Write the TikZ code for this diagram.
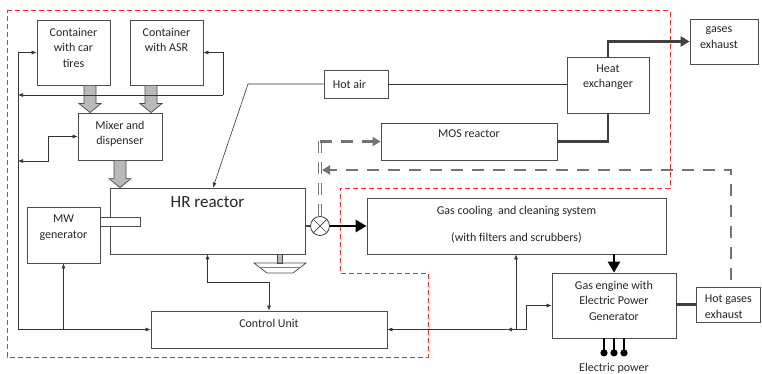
\documentclass[tikz,border=0pt]{standalone}
\usepackage{fontspec}
\setmainfont{Carlito}
\usetikzlibrary{arrows.meta,calc}

% gray block arrow, drawn straight down from #1 to the height of #2
\newcommand{\feedarrow}[2]{%
  \draw[blockarr] let \p1=(#1), \p2=(#2) in
    (\x1-6pt,\y1) -- (\x1+6pt,\y1) -- (\x1+6pt,\y2+9pt) -- (\x1+11pt,\y2+9pt)
    -- (\x1,\y2) -- (\x1-11pt,\y2+9pt) -- (\x1-6pt,\y2+9pt) -- cycle;}

\begin{document}
\begin{tikzpicture}[x=1pt, y=-1pt, >={Latex[length=5pt,width=4pt]},
    box/.style args={#1/#2}{draw=black!70, line width=0.8pt, fill=white,
      minimum width=#1pt, minimum height=#2pt, inner sep=0pt},
    txt/.style={font=\fontsize{12}{15.5}\selectfont, text=black!85,
      align=center, anchor=north, inner sep=0pt},
    toptxt/.style={txt, yshift=-8pt},
    wire/.style={draw=black!80, line width=0.6pt},
    sig/.style={wire, ->},
    pipe/.style={draw=black!75, line width=2.4pt},
    thickarr/.style={draw=black, line width=2.8pt, -{Triangle[length=11pt,width=12pt]}},
    gasdash/.style={draw=black!55, line width=2.6pt, dash pattern=on 12pt off 9pt},
    gasdouble/.style={draw=black!55, line width=0.9pt, double=white,
      double distance=1.4pt, dash pattern=on 12pt off 9pt},
    blockarr/.style={draw=black!70, fill=gray!55, line width=0.7pt},
    redzone/.style={draw=red!85, line width=1pt, dash pattern=on 5pt off 3pt},
    valve/.style={circle, draw=black!75, line width=0.8pt, fill=white,
      minimum size=19pt, inner sep=0pt}]
  \useasboundingbox (0,0) rectangle (762,374);

  % ===== dashed zone =====
  \draw[redzone] (7,11) -- (670,11) -- (670,188) -- (340,188) -- (340,273)
    -- (428,273) -- (428,357) -- (7,357) -- cycle;

  % ===== blocks =====
  \node[box=73/65, label={[toptxt]north:Container\\with car\\tires}] (tires) at (73.5,52.5) {};
  \node[box=73/65, label={[toptxt]north:Container\\with ASR}] (asr) at (166.5,52.5) {};
  \node[box=84/47, label={[toptxt]north:Mixer and\\dispenser}] (mixer) at (120,136.5) {};
  \node[box=195/66, label={[txt, font=\fontsize{17}{20}\selectfont, yshift=-9pt]north:HR reactor}] (hr) at (207.5,221) {};
  \node[box=73/56, label={[toptxt]north:MW\\generator}] (mw) at (63.5,235) {};
  \node[box=236/37, label={[toptxt]north:Control Unit}] (cu) at (269,329.5) {};
  \node[box=64/28, label={[txt, anchor=west, xshift=9pt]west:Hot air}] (hotair) at (356,84) {};
  \node[box=176/37, label={[txt, yshift=-7pt]north:MOS reactor}] (mos) at (469,141.5) {};
  \node[box=82/56, label={[toptxt]north:Heat\\exchanger}] (hx) at (608,85) {};
  \node[box=68/45, label={[toptxt, xshift=-5pt]north:gases\\exhaust}] (gexh) at (724,41.5) {};
  \node[box=299/56, label={[toptxt]north:Gas cooling\ \ and cleaning system\\[11.5pt](with filters and scrubbers)}] (gcool) at (516.5,226) {};
  \node[box=124/65, label={[toptxt]north:Gas engine with\\Electric Power\\Generator}] (engine) at (614,305.5) {};
  \node[box=64/35, label={[toptxt, align=left, anchor=north west, xshift=9pt]north west:Hot gases\\exhaust}] (hotgas) at (728,304.5) {};
  \node[font=\fontsize{12}{14}\selectfont, text=black!85, inner sep=0pt] (epower) at (614,368) {Electric power};
  \node[valve] (valve) at (320,226) {};
  \draw[black!75, line width=0.7pt] (valve.north west) -- (valve.south east)
    (valve.north east) -- (valve.south west);

  % MW tab and outlet under the reactor
  \draw[black!70, line width=0.8pt, fill=white] (100,217) rectangle (140,226);
  \draw[blockarr] (277,254) rectangle (282,263);
  \draw[black!70, line width=0.8pt] (254,263) -- (306,263) -- (293,273) -- (267,273) -- cycle;
  \draw[black!50, line width=0.5pt] (259,267) -- (301,267);

  % ===== material flow =====
  \feedarrow{[xshift=16.5pt]tires.south}{mixer.north}
  \feedarrow{[xshift=-15.5pt]asr.south}{mixer.north}
  \feedarrow{mixer.south}{hr.north}

  % ===== control lines =====
  \coordinate (bus) at (18,0);
  \coordinate (asrtap) at (223,95);
  \coordinate (mixtap) at (48,161);
  \coordinate (habend) at (248,84);
  \coordinate (cutap) at (269,282);
  \coordinate (rtap) at (526,329.5);
  \coordinate (rup) at (516,329.5);
  \coordinate (rmid) at (507,329.5);

  \draw[sig] (tires.west -| bus) -- (tires.west);
  \draw[wire] (tires.west -| bus) -- (cu.west -| bus);
  \draw[sig] (cu.west -| bus) -- (cu.west);
  \draw[sig] (mw.south |- cu.west) -- (mw.south);
  \draw[sig] (asrtap) -- (asrtap -| bus);
  \draw[sig] (asrtap) |- (asr.east);
  \draw[sig] (mixtap |- mixer.west) -- (mixer.west);
  \draw[sig] (mixtap |- mixer.west) -- (mixtap) -- (mixtap -| bus);
  \draw[sig] (hotair.west) -- (habend) -- ([xshift=5.5pt]hr.north);
  \draw[wire] (hotair.east) -- (hotair.east -| hx.west);
  \draw[sig] (cutap) -| (hr.south);
  \draw[sig] (cutap) -- (cu.north);
  \draw[sig] (rtap) |- (engine.west);
  \draw[sig] (rtap) -- (rmid);
  \draw[sig] (rmid) -- (cu.east);
  \draw[sig] (rup) -- (rup |- gcool.south);

  % ===== gas lines =====
  \draw[pipe] (valve.west -| hr.east) -- (valve.west);
  \draw[thickarr] (valve.east) -- (gcool.west);
  \draw[thickarr] (engine.north |- gcool.south) -- (engine.north);
  \draw[pipe] (hotgas.west -| engine.east) -- (hotgas.west);
  \draw[pipe] (mos.east) -| (hx.south);
  \draw[pipe, -{Triangle[length=9pt,width=10pt]}] (hx.north) |- (gexh.west);
  \draw[gasdouble] (valve.north) -- (valve.north |- mos.west);
  \draw[gasdash, -{Triangle[length=8pt,width=9pt]}] (valve.north |- mos.west) -- (mos.west);
  \draw[gasdash, -{Triangle[length=8pt,width=9pt]}] ([xshift=3pt,yshift=7pt]hotgas.north) |- ([xshift=2pt]valve.north |- 0,170);

  % electric power outputs
  \foreach \dx in {-10,0,10}
    \draw[black, line width=2.2pt, -{Circle[length=7pt,width=7pt]}] ([xshift=\dx pt]engine.south) -- ++(0,18);
\end{tikzpicture}
\end{document}
